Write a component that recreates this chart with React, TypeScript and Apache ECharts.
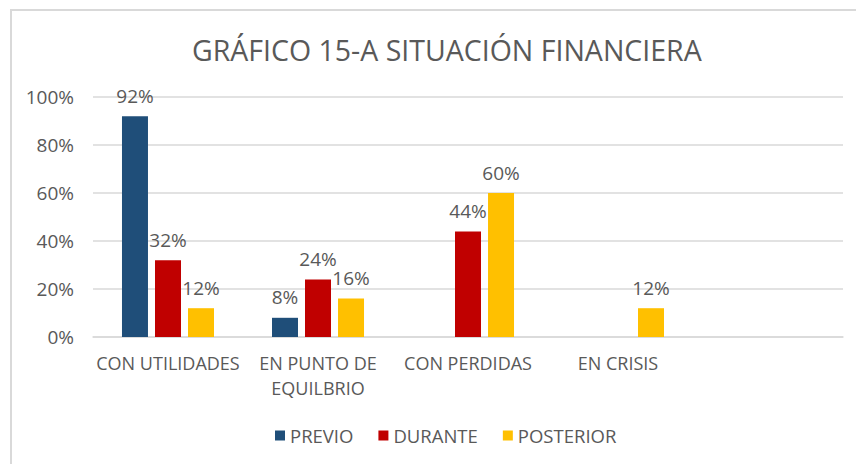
import React, { useEffect, useRef } from "react";
import * as echarts from "echarts";

const categories = ["CON UTILIDADES", "EN PUNTO DE\nEQUILBRIO", "CON PERDIDAS", "EN CRISIS", ""];
const previo = [92, 8, null, null, null];
const durante = [32, 24, 44, null, null];
const posterior = [12, 16, 60, 12, null];
const yTicks = [0, 20, 40, 60, 80, 100];

const FONT = "'Open Sans', 'Liberation Sans', sans-serif";
const TXT = "#595959";

export default function App() {
  const ref = useRef<HTMLDivElement>(null);
  useEffect(() => {
    if (!ref.current) return;
    const chart = echarts.init(ref.current, undefined, { renderer: "svg" });
    const label = {
      show: true,
      position: "top",
      distance: 11,
      color: TXT,
      fontSize: 19,
      fontFamily: FONT,
      formatter: (p: any) => (p.value == null ? "" : p.value + "%"),
    };
    const mk = (name: string, data: (number | null)[], color: string) => ({
      name,
      type: "bar",
      data,
      barWidth: 26,
      barGap: "27%",
      itemStyle: { color },
      label,
    });
    chart.setOption({
      animation: false,
      textStyle: { fontFamily: FONT },
      title: {
        text: "GRÁFICO 15-A SITUACIÓN FINANCIERA",
        left: 187,
        top: 30,
        textStyle: { color: TXT, fontSize: 28.5, fontWeight: "normal", fontFamily: FONT },
      },
      graphic: [
        {
          type: "rect",
          shape: { x: 11, y: 10, width: 900, height: 500 },
          style: { fill: "none", stroke: "#D9D9D9", lineWidth: 2 },
          silent: true,
        },
      ],
      legend: {
        bottom: 14,
        left: 270,
        itemWidth: 10,
        itemHeight: 10,
        itemGap: 25,
        icon: "rect",
        textStyle: { color: TXT, fontSize: 18.5, fontFamily: FONT },
        data: ["PREVIO", "DURANTE", "POSTERIOR"],
      },
      grid: { left: 93, right: 13, top: 97, bottom: 127, containLabel: false },
      xAxis: {
        type: "category",
        data: categories,
        axisTick: { show: false },
        axisLine: { lineStyle: { color: "#D9D9D9", width: 1.5 } },
        axisLabel: {
          color: TXT,
          fontSize: 18,
          fontFamily: FONT,
          lineHeight: 25,
          margin: 13,
          interval: 0,
        },
      },
      yAxis: {
        type: "value",
        min: yTicks[0],
        max: yTicks[yTicks.length - 1],
        interval: 20,
        axisLine: { show: false },
        axisTick: { show: false },
        splitLine: { lineStyle: { color: "#D9D9D9", width: 1.5 } },
        axisLabel: {
          color: TXT,
          fontSize: 19,
          fontFamily: FONT,
          margin: 19,
          formatter: (v: number) => v + "%",
        },
      },
      series: [
        mk("PREVIO", previo, "#1F4E79"),
        mk("DURANTE", durante, "#C00000"),
        mk("POSTERIOR", posterior, "#FFC000"),
      ],
    });
    return () => chart.dispose();
  }, []);
  return (
    <div
      ref={ref}
      style={{ position: "fixed", left: 0, top: 0, width: 856, height: 464, background: "#fff" }}
    />
  );
}
